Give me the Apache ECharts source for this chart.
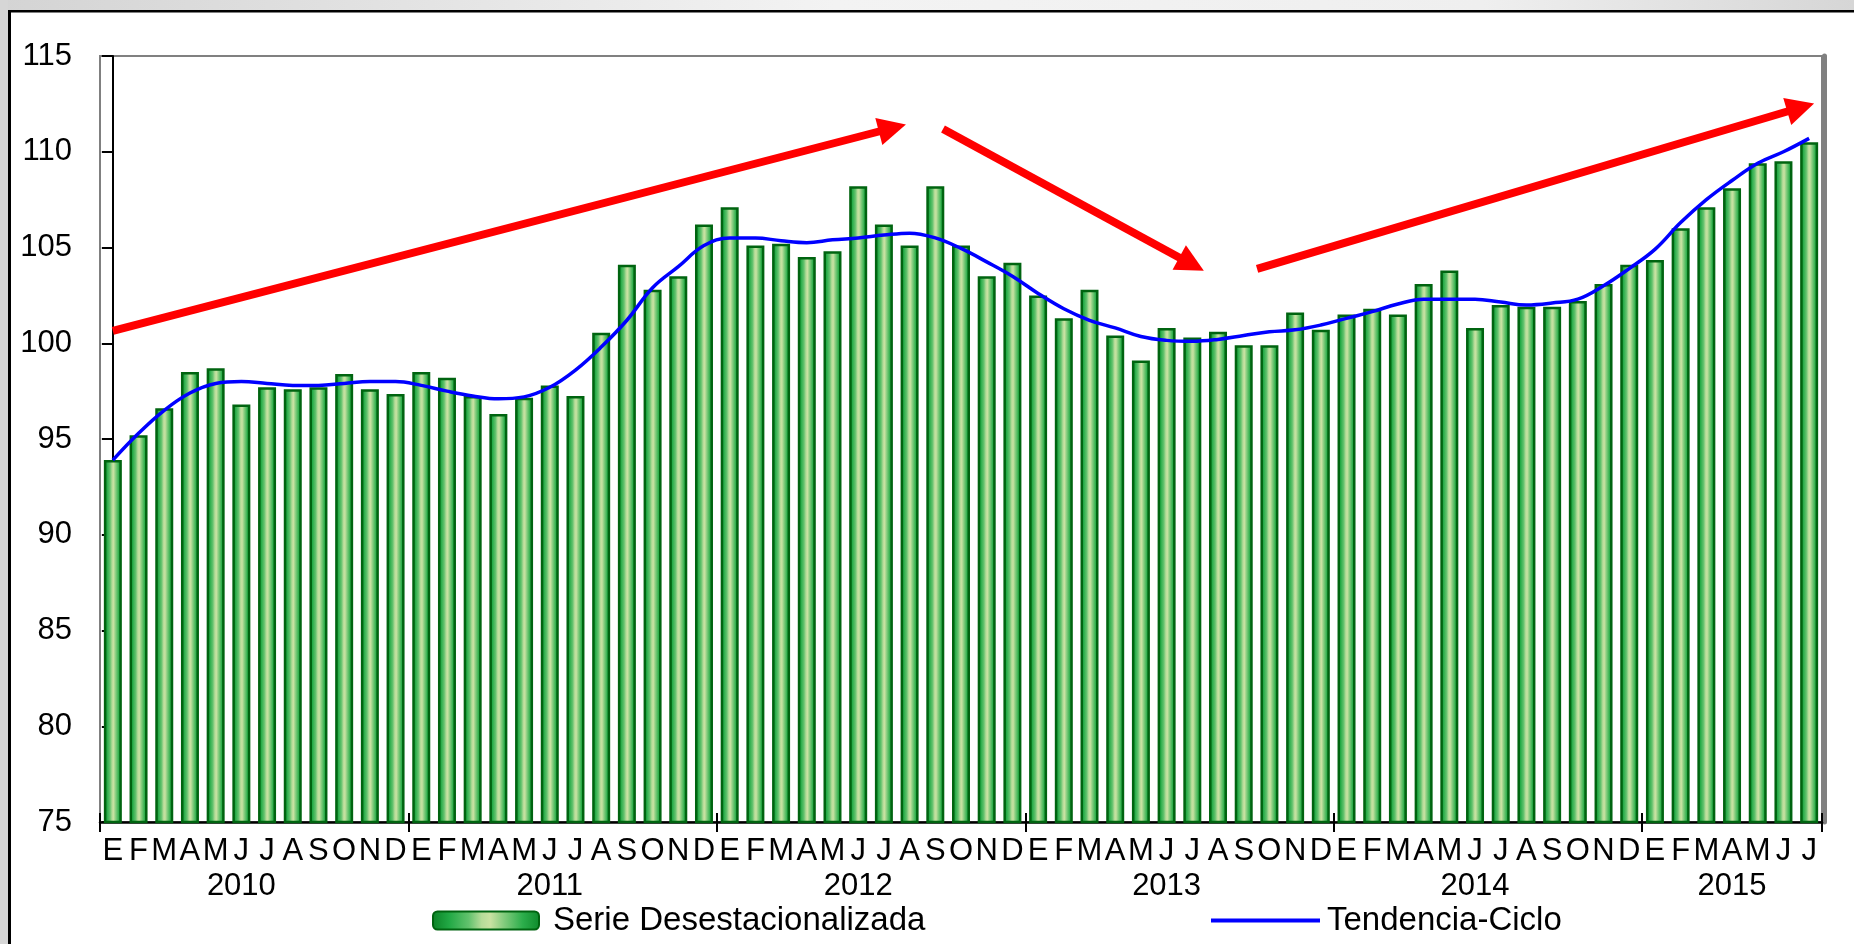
<!DOCTYPE html>
<html>
<head>
<meta charset="utf-8">
<script src="https://cdn.jsdelivr.net/npm/echarts@6/dist/echarts.min.js"></script>
<style>
  html, body { margin: 0; padding: 0; background: #ffffff; }
  #chart { width: 1854px; height: 944px; }
</style>
</head>
<body>
<div id="chart"></div>
<script>
// ---- data ----
const months = [
  'E','F','M','A','M','J','J','A','S','O','N','D',
  'E','F','M','A','M','J','J','A','S','O','N','D',
  'E','F','M','A','M','J','J','A','S','O','N','D',
  'E','F','M','A','M','J','J','A','S','O','N','D',
  'E','F','M','A','M','J','J','A','S','O','N','D',
  'E','F','M','A','M','J','J'
];
const years = ['2010', '2011', '2012', '2013', '2014', '2015'];
const monthsPerYear = [12, 12, 12, 12, 12, 7];

const serieDesestacionalizada = [
  93.9, 95.2, 96.6, 98.5, 98.7, 96.8, 97.7, 97.6, 97.7, 98.4, 97.6, 97.35,
  98.5, 98.2, 97.25, 96.3, 97.15, 97.8, 97.25, 100.55, 104.1, 102.8, 103.5, 106.2,
  107.1, 105.1, 105.2, 104.5, 104.8, 108.2, 106.2, 105.1, 108.2, 105.1, 103.5, 104.2,
  102.5, 101.3, 102.8, 100.4, 99.1, 100.8, 100.3, 100.6, 99.9, 99.9, 101.6, 100.7,
  101.5, 101.8, 101.5, 103.1, 103.8, 100.8, 102.0, 101.9, 101.9, 102.2, 103.1, 104.1,
  104.35, 106.0, 107.1, 108.1, 109.4, 109.5, 110.5
];
const tendenciaCiclo = [
  93.9, 95.3, 96.5, 97.4, 97.9, 98.0, 97.9, 97.8, 97.8, 97.9, 98.0, 98.0,
  97.8, 97.5, 97.25, 97.1, 97.2, 97.7, 98.6, 99.8, 101.2, 102.9, 104.0, 105.1,
  105.5, 105.5, 105.35, 105.25, 105.4, 105.5, 105.65, 105.75, 105.5, 104.95, 104.25, 103.5,
  102.6, 101.8, 101.2, 100.8, 100.35, 100.15, 100.1, 100.2, 100.4, 100.6, 100.7, 100.95,
  101.3, 101.65, 102.05, 102.3, 102.3, 102.3, 102.15, 102.0, 102.1, 102.3, 103.0, 103.9,
  104.9, 106.3, 107.5, 108.5, 109.4, 110.0, 110.7
];
const yTicks = { min: 75, max: 115, interval: 5 };
// red trend arrows (annotations), in data units: [monthIndex, value] start -> end
const trendArrows = [
  [[0.0, 100.64], [30.33, 111.24]],
  [[32.30, 111.19], [41.97, 104.13]],
  [[44.52, 103.88], [65.67, 112.31]]
];

// ---- derived: year label under the middle month of each year ----
const yearAt = {};
let start = 0;
years.forEach((y, k) => {
  const n = monthsPerYear[k];
  yearAt[start + Math.floor((n - 1) / 2)] = y;
  start += n;
});
const yearStartTick = (i) => {
  let s = 0;
  for (let k = 0; k < monthsPerYear.length; k++) { if (i === s) return true; s += monthsPerYear[k]; }
  return false;
};

const FONT = '"Liberation Sans", Arial, sans-serif';
const barGradient = new echarts.graphic.LinearGradient(0, 0, 1, 0, [
  { offset: 0, color: '#0b8226' },
  { offset: 0.16, color: '#22a945' },
  { offset: 0.34, color: '#62c26d' },
  { offset: 0.46, color: '#b6dc99' },
  { offset: 0.54, color: '#c9e2a2' },
  { offset: 0.66, color: '#86cd7f' },
  { offset: 0.84, color: '#2cae4b' },
  { offset: 1, color: '#0d8a2b' }
]);

const chart = echarts.init(document.getElementById('chart'), null, { renderer: 'canvas' });
chart.setOption({
  animation: false,
  backgroundColor: '#ffffff',
  graphic: [
    { type: 'rect', shape: { x: 0, y: 0, width: 1854, height: 10 },
      style: { fill: new echarts.graphic.LinearGradient(0, 0, 1, 0, [
        { offset: 0, color: '#d4d4d4' }, { offset: 0.45, color: '#f3f3f3' },
        { offset: 0.8, color: '#efefef' }, { offset: 1, color: '#d6d6d6' }]) }, silent: true },
    { type: 'rect', shape: { x: 0, y: 0, width: 8, height: 944 }, style: { fill: '#d6d6d6' }, silent: true },
    { type: 'rect', shape: { x: 8, y: 10, width: 3, height: 934 }, style: { fill: '#000000' }, silent: true },
    { type: 'rect', shape: { x: 8, y: 10, width: 1846, height: 2.5 }, style: { fill: '#000000' }, silent: true }
  ],
  grid: {
    left: 100, right: 32, top: 56, bottom: 122,
    show: true, borderColor: '#808080', borderWidth: 2, backgroundColor: 'transparent'
  },
  legend: [
    {
      data: ['Serie Desestacionalizada'],
      left: 432, top: 904, padding: 0,
      itemWidth: 106, itemHeight: 18,
      textStyle: { fontFamily: FONT, fontSize: 33, color: '#000', padding: [0, 0, 0, 9] }
    },
    {
      data: [{ name: 'Tendencia-Ciclo', icon: 'rect' }],
      left: 1211, top: 904, padding: 0,
      itemWidth: 109, itemHeight: 4,
      itemStyle: { color: '#0000ff', borderWidth: 0 },
      textStyle: { fontFamily: FONT, fontSize: 33, color: '#000', padding: [0, 0, 0, 2] }
    }
  ],
  xAxis: [
    {
      type: 'category', data: months, boundaryGap: true, position: 'bottom',
      axisLine: { show: true, lineStyle: { color: '#000', width: 2.5 } },
      axisTick: { show: true, interval: (i) => yearStartTick(i), length: 10, lineStyle: { color: '#000', width: 2 } },
      axisLabel: {
        interval: 0, margin: 12, color: '#000', fontFamily: FONT, fontSize: 31, lineHeight: 35,
        hideOverlap: false,
        formatter: (v, i) => (yearAt[i] ? v + '\n' + yearAt[i] : v)
      },
      splitLine: { show: false }
    },
    {
      type: 'category', data: months, boundaryGap: true, position: 'bottom',
      axisLine: { show: false },
      axisTick: { show: true, inside: true, interval: (i) => yearStartTick(i), length: 9, lineStyle: { color: '#000', width: 2 } },
      axisLabel: { show: false },
      splitLine: { show: false }
    },
    { type: 'value', min: -0.5, max: months.length - 0.5, show: false }
  ],
  yAxis: [
    {
      type: 'value', min: yTicks.min, max: yTicks.max, interval: yTicks.interval,
      axisLine: { show: true, lineStyle: { color: '#000', width: 2 } },
      axisTick: { show: true, length: 11, lineStyle: { color: '#000', width: 2 } },
      axisLabel: { margin: 28, color: '#000', fontFamily: FONT, fontSize: 31 },
      splitLine: { show: false }
    },
    {
      type: 'value', position: 'right', offset: 2, min: yTicks.min, max: yTicks.max, interval: yTicks.interval,
      axisLine: { show: true, lineStyle: { color: '#808080', width: 5 } },
      axisTick: { show: false }, axisLabel: { show: false }, splitLine: { show: false }
    }
  ],
  series: [
    {
      name: 'Serie Desestacionalizada', type: 'bar', xAxisIndex: 0, yAxisIndex: 0,
      data: serieDesestacionalizada,
      barCategoryGap: '30%',
      itemStyle: { color: barGradient, borderColor: '#006410', borderWidth: 2.5 },
      emphasis: { disabled: true }
    },
    {
      name: 'Tendencia-Ciclo', type: 'line', xAxisIndex: 0, yAxisIndex: 0,
      data: tendenciaCiclo, smooth: 0.4, symbol: 'none', z: 4,
      lineStyle: { color: '#0000ff', width: 3.5 },
      itemStyle: { color: '#0000ff' },
      emphasis: { disabled: true }
    },
    {
      name: 'arrows', type: 'line', xAxisIndex: 2, yAxisIndex: 0,
      data: trendArrows.map(a => a[0]), symbol: 'none', z: 5,
      lineStyle: { opacity: 0, width: 0 },
      markLine: {
        silent: true, animation: false,
        symbol: ['none', 'triangle'], symbolSize: [28, 28],
        label: { show: false },
        lineStyle: { color: '#ff0000', width: 8, type: 'solid', opacity: 1 },
        emphasis: { disabled: true },
        data: trendArrows.map(a => [{ coord: a[0] }, { coord: a[1] }])
      }
    }
  ]
});
</script>
</body>
</html>
